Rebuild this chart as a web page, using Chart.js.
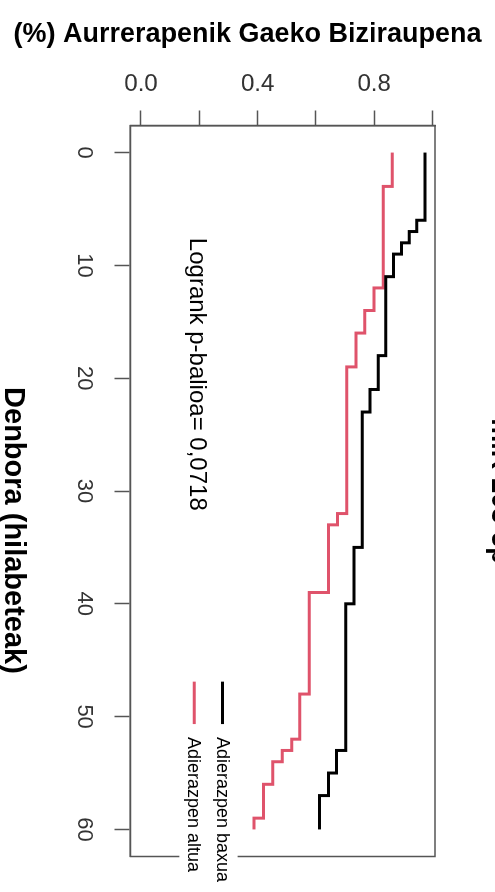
<!DOCTYPE html>
<html lang="eu">
<head>
<meta charset="UTF-8">
<title>Aurrerapenik Gaeko Biziraupena</title>
<script src="https://cdn.jsdelivr.net/npm/chart.js"></script>
<style>
  html, body { margin: 0; padding: 0; background: #fff; overflow: hidden; }
  /* the plot is built lying down (time left->right) and turned a quarter turn clockwise */
  #wrap {
    position: absolute; left: 0; top: 0;
    width: 892px; height: 495px;
    transform-origin: 0 0;
    transform: translateX(495px) rotate(90deg);
  }
</style>
</head>
<body>
<div id="wrap"><canvas id="kmChart" width="892" height="495"></canvas></div>

<script>
  // tick values / labels
  const timeTicks = [0, 10, 20, 30, 40, 50, 60];
  const survTicks = [0, 0.2, 0.4, 0.6, 0.8, 1.0];
  const survLabels = ['0.0', '', '0.4', '', '0.8', ''];

  // Kaplan-Meier steps (months / survival)
  const lowTimes = [0, 6, 7, 8, 9, 11, 18, 21, 23, 35, 40, 53, 55, 57, 60];
  const lowSurv = [0.974, 0.946, 0.920, 0.894, 0.866, 0.840, 0.814, 0.786, 0.759, 0.731, 0.702, 0.671, 0.643, 0.612, 0.612];
  const highTimes = [0, 3, 12, 14, 16, 19, 32, 33, 39, 48, 52, 53, 54, 56, 59, 60];
  const highSurv = [0.862, 0.831, 0.799, 0.768, 0.738, 0.706, 0.674, 0.643, 0.577, 0.545, 0.517, 0.485, 0.452, 0.420, 0.388, 0.388];

  const groupNames = ['Adierazpen baxua', 'Adierazpen altua'];
  const groupColors = ['#000000', '#DF536B'];
  const pText = 'Logrank p-balioa= 0,0718';

  const FONT = '"Liberation Sans", Arial, sans-serif';
  Chart.defaults.font.family = FONT;

  function toPoints(times, surv) {
    return times.map((t, i) => ({ x: t, y: surv[i] }));
  }

  // box, x title, p-value text and legend
  const extras = {
    id: 'extras',
    beforeDatasetsDraw(chart) {
      const { ctx, chartArea: a } = chart;
      ctx.save();
      ctx.strokeStyle = '#555';
      ctx.lineWidth = 1.5;
      ctx.strokeRect(a.left, a.top, a.right - a.left, a.bottom - a.top);
      ctx.restore();
    },
    afterDraw(chart) {
      const { ctx, chartArea: a, scales: { x, y } } = chart;
      ctx.save();
      ctx.fillStyle = '#000';

      ctx.font = 'bold 29px ' + FONT;
      ctx.textAlign = 'center';
      ctx.textBaseline = 'alphabetic';
      ctx.fillText('Denbora (hilabeteak)', x.getPixelForValue(33.5), a.bottom + 125);

      ctx.font = '24px ' + FONT;
      ctx.textAlign = 'left';
      ctx.fillText(pText, x.getPixelForValue(7.56), y.getPixelForValue(0.168));

      // legend
      const l0 = x.getPixelForValue(46.9);
      const l1 = x.getPixelForValue(50.66);
      const tx = x.getPixelForValue(51.8);
      const rows = [y.getPixelForValue(0.28), y.getPixelForValue(0.183)];
      ctx.fillStyle = '#fff';
      ctx.fillRect(l0 - 12, rows[0] - 15, chart.width - l0 + 12, rows[1] - rows[0] + 30);
      ctx.font = '18px ' + FONT;
      ctx.textBaseline = 'middle';
      rows.forEach((ry, i) => {
        ctx.strokeStyle = groupColors[i];
        ctx.lineWidth = 3;
        ctx.beginPath();
        ctx.moveTo(l0, ry);
        ctx.lineTo(l1, ry);
        ctx.stroke();
        ctx.fillStyle = '#000';
        ctx.fillText(groupNames[i], tx, ry + 1);
      });
      ctx.restore();
    }
  };

  const ctx = document.getElementById('kmChart').getContext('2d');

  const kmChart = new Chart(ctx, {
    type: 'line',
    data: {
      datasets: [{
        label: groupNames[0],
        data: toPoints(lowTimes, lowSurv),
        borderColor: groupColors[0],
        borderWidth: 3,
        stepped: true,
        pointRadius: 0,
        fill: false
      }, {
        label: groupNames[1],
        data: toPoints(highTimes, highSurv),
        borderColor: groupColors[1],
        borderWidth: 3,
        stepped: true,
        pointRadius: 0,
        fill: false
      }]
    },
    options: {
      responsive: false,
      animation: false,
      devicePixelRatio: 1,
      layout: { padding: { top: 0, right: 35.5, bottom: 0, left: 0 } },
      plugins: {
        legend: { display: false },
        tooltip: { enabled: false },
        title: {
          display: true,
          position: 'left',
          text: '(%) Aurrerapenik Gaeko Biziraupena',
          color: '#000',
          font: { size: 27, weight: 'bold' },
          padding: { top: 18, bottom: 0 }
        },
        subtitle: {
          display: true,
          position: 'top',
          fullSize: false,
          text: 'miR-203-5p',
          color: '#000',
          font: { size: 27, weight: 'bold' },
          padding: { top: -20.7, bottom: 48.3 }
        }
      },
      scales: {
        x: {
          type: 'linear',
          position: 'bottom',
          min: -2.4,
          max: 62.4,
          afterBuildTicks: s => { s.ticks = timeTicks.map(v => ({ value: v })); },
          afterFit: s => { s.height = 130.5; },
          ticks: {
            autoSkip: false,
            maxRotation: 0,
            padding: 17,
            color: '#333',
            font: { size: 22 },
            callback: v => String(v)
          },
          grid: { drawOnChartArea: false, tickLength: 16, color: '#555', tickWidth: 1.5 },
          border: { display: true, color: '#555', width: 1.5 }
        },
        y: {
          type: 'linear',
          position: 'left',
          min: -0.036,
          max: 1.0086,
          afterBuildTicks: s => { s.ticks = survTicks.map(v => ({ value: v })); },
          afterFit: s => { s.width = 75.1; },
          ticks: {
            autoSkip: false,
            minRotation: 90,
            maxRotation: 90,
            crossAlign: 'center',
            padding: 9,
            color: '#333',
            font: { size: 24 },
            callback: (v, i) => survLabels[i]
          },
          grid: { drawOnChartArea: false, tickLength: 15, color: '#555', tickWidth: 1.5 },
          border: { display: true, color: '#555', width: 1.5 }
        }
      }
    },
    plugins: [extras]
  });
</script>
</body>
</html>
